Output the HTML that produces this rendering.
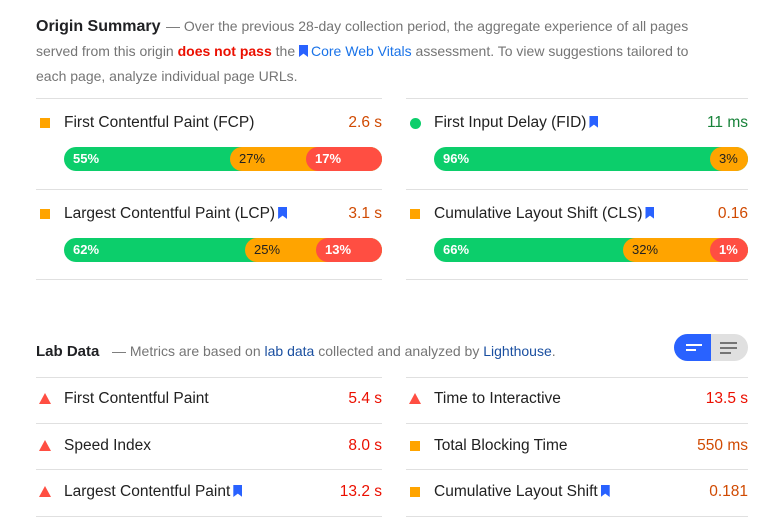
<!DOCTYPE html>
<html><head><meta charset="utf-8"><style>
body{margin:0;width:772px;height:524px;background:#fff;font-family:"Liberation Sans",Arial,sans-serif;position:relative;overflow:hidden;color:#202124}
.a{position:absolute;white-space:nowrap}
.desc{font-size:14px;color:#757575;line-height:25px}
.hr{position:absolute;height:1px;background:#e0e0e0}
.t{font-size:15.5px;color:#212121}
.v{font-size:15.5px;text-align:right}
.sq{position:absolute;width:10px;height:10px;background:#ffa400}
.ci{position:absolute;width:11px;height:11px;border-radius:50%;background:#0cce6b}
.tri{position:absolute;width:0;height:0;border-left:6px solid transparent;border-right:6px solid transparent;border-bottom:11px solid #ff4e42}
.seg{position:absolute;height:24px;border-radius:12px;font-size:13px;line-height:24px;box-sizing:border-box;padding-left:9px}
.g{background:#0cce6b;color:#fff;font-weight:bold}
.o{background:#ffa400;color:#212121}
.r{background:#ff4e42;color:#fff;font-weight:bold}
.bm{display:inline-block;width:9px;height:12px;background:#2962ff;clip-path:polygon(0 0,100% 0,100% 100%,50% 72%,0 100%);margin-left:3px;vertical-align:-1px}
.org{color:#d04a02}.red{color:#eb0f00}.grn{color:#178239}
</style></head><body>
<div class="a" style="left:36px;top:18px;font-size:16px;font-weight:bold;color:#202124">Origin Summary</div>
<div class="a desc" style="left:166px;top:14px">— Over the previous 28-day collection period, the aggregate experience of all pages</div>
<div class="a desc" style="left:36px;top:39px">served from this origin <span style="color:#eb0f00;font-weight:bold">does not pass</span> the <span style="color:#1a73e8"><span class="bm" style="margin:0 3px 0 0"></span>Core Web Vitals</span> assessment. To view suggestions tailored to</div>
<div class="a desc" style="left:36px;top:64px">each page, analyze individual page URLs.</div>

<div class="hr" style="left:36px;top:98px;width:346px"></div>
<div class="hr" style="left:406px;top:98px;width:342px"></div>
<div class="hr" style="left:36px;top:189px;width:346px"></div>
<div class="hr" style="left:406px;top:189px;width:342px"></div>
<div class="hr" style="left:36px;top:279px;width:346px"></div>
<div class="hr" style="left:406px;top:279px;width:342px"></div>

<div class="sq" style="left:40px;top:118px"></div>
<div class="a t" style="left:64px;top:114px">First Contentful Paint (FCP)</div>
<div class="a v org" style="right:390px;top:114px">2.6 s</div>
<div class="seg g" style="left:64px;top:147px;width:318px">55%</div>
<div class="seg o" style="left:230px;top:147px;width:152px">27%</div>
<div class="seg r" style="left:306px;top:147px;width:76px">17%</div>

<div class="ci" style="left:410px;top:118px"></div>
<div class="a t" style="left:434px;top:114px">First Input Delay (FID)<span class="bm"></span></div>
<div class="a v grn" style="right:24px;top:114px">11 ms</div>
<div class="seg g" style="left:434px;top:147px;width:314px">96%</div>
<div class="seg o" style="left:710px;top:147px;width:38px">3%</div>

<div class="sq" style="left:40px;top:209px"></div>
<div class="a t" style="left:64px;top:205px">Largest Contentful Paint (LCP)<span class="bm"></span></div>
<div class="a v org" style="right:390px;top:205px">3.1 s</div>
<div class="seg g" style="left:64px;top:238px;width:318px">62%</div>
<div class="seg o" style="left:245px;top:238px;width:137px">25%</div>
<div class="seg r" style="left:316px;top:238px;width:66px">13%</div>

<div class="sq" style="left:410px;top:209px"></div>
<div class="a t" style="left:434px;top:205px">Cumulative Layout Shift (CLS)<span class="bm"></span></div>
<div class="a v org" style="right:24px;top:205px">0.16</div>
<div class="seg g" style="left:434px;top:238px;width:314px">66%</div>
<div class="seg o" style="left:623px;top:238px;width:125px">32%</div>
<div class="seg r" style="left:710px;top:238px;width:38px">1%</div>

<div class="a" style="left:36px;top:343px;font-size:15px;font-weight:bold;color:#202124">Lab Data</div>
<div class="a desc" style="left:112px;top:339px">— Metrics are based on <span style="color:#1a4fa0">lab data</span> collected and analyzed by <span style="color:#1a4fa0">Lighthouse</span>.</div>
<div class="a" style="left:674px;top:334px;width:74px;height:27px;border-radius:14px;background:#e0e0e0;overflow:hidden">
  <div style="position:absolute;left:0;top:0;width:37px;height:27px;background:#2962ff"></div>
  <div style="position:absolute;left:12px;top:10px;width:16px;height:2px;background:#fff"></div>
  <div style="position:absolute;left:12px;top:15px;width:10px;height:2px;background:#fff"></div>
  <div style="position:absolute;left:46px;top:8px;width:17px;height:2px;background:#757575"></div>
  <div style="position:absolute;left:46px;top:13px;width:17px;height:2px;background:#757575"></div>
  <div style="position:absolute;left:46px;top:18px;width:11px;height:2px;background:#757575"></div>
</div>
<div class="hr" style="left:36px;top:377px;width:346px"></div>
<div class="hr" style="left:406px;top:377px;width:342px"></div>
<div class="hr" style="left:36px;top:423px;width:346px"></div>
<div class="hr" style="left:406px;top:423px;width:342px"></div>
<div class="hr" style="left:36px;top:469px;width:346px"></div>
<div class="hr" style="left:406px;top:469px;width:342px"></div>
<div class="hr" style="left:36px;top:516px;width:346px"></div>
<div class="hr" style="left:406px;top:516px;width:342px"></div>

<div class="tri" style="left:39px;top:393px"></div>
<div class="a t" style="left:64px;top:390px">First Contentful Paint</div>
<div class="a v red" style="right:390px;top:390px">5.4 s</div>
<div class="tri" style="left:409px;top:393px"></div>
<div class="a t" style="left:434px;top:390px">Time to Interactive</div>
<div class="a v red" style="right:24px;top:390px">13.5 s</div>

<div class="tri" style="left:39px;top:440px"></div>
<div class="a t" style="left:64px;top:437px">Speed Index</div>
<div class="a v red" style="right:390px;top:437px">8.0 s</div>
<div class="sq" style="left:410px;top:441px"></div>
<div class="a t" style="left:434px;top:437px">Total Blocking Time</div>
<div class="a v org" style="right:24px;top:437px">550 ms</div>

<div class="tri" style="left:39px;top:486px"></div>
<div class="a t" style="left:64px;top:483px">Largest Contentful Paint<span class="bm"></span></div>
<div class="a v red" style="right:390px;top:483px">13.2 s</div>
<div class="sq" style="left:410px;top:487px"></div>
<div class="a t" style="left:434px;top:483px">Cumulative Layout Shift<span class="bm"></span></div>
<div class="a v org" style="right:24px;top:483px">0.181</div>
</body></html>
